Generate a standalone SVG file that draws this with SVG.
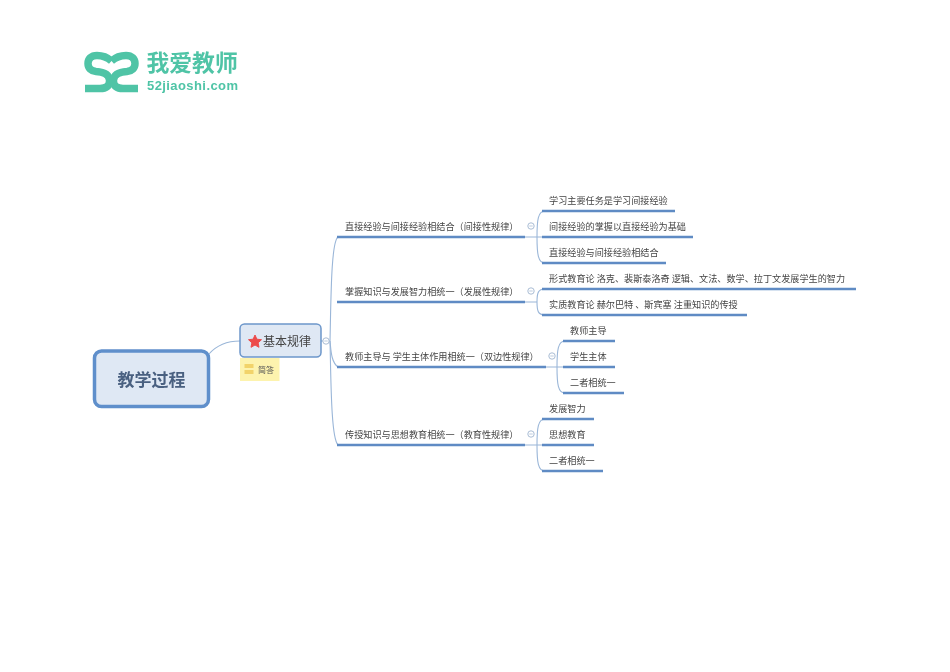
<svg xmlns="http://www.w3.org/2000/svg" width="950" height="672" viewBox="0 0 950 672">
<style>
text{font-family:"Noto Sans CJK SC","Liberation Sans",sans-serif}
.t{font-size:9.150px;fill:#444}
.thin{fill:none;stroke:#9ab6d8;stroke-width:1.100}
.u{fill:none;stroke:#5f8bc4;stroke-width:2.400}
.c{fill:#fff;stroke:#a9bcd4;stroke-width:1}
.logo{fill:none;stroke:#4fc4a6;stroke-width:7.500}
</style>
<defs>
<filter id="b" x="-5%" y="-5%" width="110%" height="110%"><feGaussianBlur stdDeviation="0.4"/></filter>
</defs>
<rect width="950" height="672" fill="#fff"/>
<g id="logo" filter="url(#b)">
<path class="logo" d="M111.500 61C107 57 102 55.500 97 55.500C91 55.500 88 59 88 63.500C88 68 91 71 96 71.500C103 72 109 74 109.500 80C110 86 106 88.500 100 88.500L85 88.500"/>
<path class="logo" d="M111.500 61C116 57 121 55.500 126 55.500C132 55.500 135 59 135 63.500C135 68 132 71 127 71.500C120 72 114 74 113.500 80C113 86 117 88.500 123 88.500L138 88.500"/>
<text x="146.500" y="71" font-size="22.800" font-weight="700" fill="#4fc4a6">我爱教师</text>
<text x="147" y="90" font-size="13" font-weight="700" fill="#4fc4a6" style="font-family:'Liberation Sans',sans-serif" textLength="91">52jiaoshi.com</text>
</g>
<g filter="url(#b)">
<g id="connectors">
<path class="thin" d="M209 354C216 346 226 341 240 341"/>
<path class="thin" d="M321 341H330"/>
<path class="thin" d="M330 341C331 300 331 242 338 237"/>
<path class="thin" d="M330 341C331 350 331 362 338 367"/>
<path class="thin" d="M330 341C331 380 331 438 338 445"/>
<path class="u" d="M337 237H525"/><path class="u" d="M337 302H525"/><path class="u" d="M337 367H546"/><path class="u" d="M337 445H525"/>
<path class="thin" d="M525 237H542M537 237C537 220 538 211 545 211M537 237C537 254 538 263 545 263"/>
<path class="thin" d="M525 302H537M537 302C537 293 538 289 545 289M537 302C537 311 538 315 545 315"/>
<path class="thin" d="M546 367H563M557 367C557 350 558 341 565 341M557 367C557 384 558 393 565 393"/>
<path class="thin" d="M525 445H542M537 445C537 428 538 419 545 419M537 445C537 462 538 471 545 471"/>
<path class="u" d="M542 211H675"/><path class="u" d="M542 237H693"/><path class="u" d="M542 263H666"/>
<path class="u" d="M542 289H856"/><path class="u" d="M542 315H747"/>
<path class="u" d="M563 341H615"/><path class="u" d="M563 367H615"/><path class="u" d="M563 393H624"/>
<path class="u" d="M542 419H594"/><path class="u" d="M542 445H594"/><path class="u" d="M542 471H603"/>
</g>
<g id="root">
<rect x="94.500" y="351" width="114" height="55.500" rx="7" fill="#dfe8f4" stroke="#5f8fcb" stroke-width="3.500"/>
<text x="151.500" y="385.500" font-size="17" font-weight="700" fill="#4a6080" text-anchor="middle">教学过程</text>
</g>
<g id="topic">
<rect x="240" y="324" width="81" height="33" rx="4.500" fill="#dfe8f4" stroke="#6c96ca" stroke-width="1.500"/>
<path d="M255 335L256.900 339.200L261.500 339.700L258.100 342.800L259 347.300L255 345L251 347.300L251.900 342.800L248.500 339.700L253.100 339.200Z" fill="#ec4c4c" stroke="#ec4c4c" stroke-width="1" stroke-linejoin="round"/>
<text x="263" y="345.500" font-size="12" fill="#444">基本规律</text>
<circle class="c" cx="326" cy="341" r="3.200"/><path d="M324.300 341H327.700" stroke="#a9bcd4" stroke-width=".8"/>
</g>
<g id="note">
<rect x="240" y="358" width="39.500" height="23" fill="#fdf3ae"/>
<rect x="244.500" y="364" width="9" height="4" fill="#f2d36b"/><rect x="244.500" y="370" width="9" height="4" fill="#f2d36b"/>
<text x="258" y="372.500" font-size="8" fill="#555">简答</text>
</g>
<g id="b1"><text class="t" x="345" y="230">直接经验与间接经验相结合（间接性规律）</text><circle class="c" cx="531" cy="226" r="3.200"/><path d="M529.300 226H532.700" stroke="#a9bcd4" stroke-width=".8"/></g>
<g id="b2"><text class="t" x="345" y="295">掌握知识与发展智力相统一（发展性规律）</text><circle class="c" cx="531" cy="291" r="3.200"/><path d="M529.300 291H532.700" stroke="#a9bcd4" stroke-width=".8"/></g>
<g id="b3"><text class="t" x="345" y="360">教师主导与 学生主体作用相统一（双边性规律）</text><circle class="c" cx="552" cy="356" r="3.200"/><path d="M550.300 356H553.700" stroke="#a9bcd4" stroke-width=".8"/></g>
<g id="b4"><text class="t" x="345" y="438">传授知识与思想教育相统一（教育性规律）</text><circle class="c" cx="531" cy="434" r="3.200"/><path d="M529.300 434H532.700" stroke="#a9bcd4" stroke-width=".8"/></g>
<g id="l1"><text class="t" x="549" y="204">学习主要任务是学习间接经验</text></g>
<g id="l2"><text class="t" x="549" y="230">间接经验的掌握以直接经验为基础</text></g>
<g id="l3"><text class="t" x="549" y="256">直接经验与间接经验相结合</text></g>
<g id="l4"><text class="t" x="549" y="282">形式教育论 洛克、裴斯泰洛奇 逻辑、文法、数学、拉丁文发展学生的智力</text></g>
<g id="l5"><text class="t" x="549" y="308">实质教育论 赫尔巴特 、斯宾塞 注重知识的传授</text></g>
<g id="l6"><text class="t" x="570" y="334">教师主导</text></g>
<g id="l7"><text class="t" x="570" y="360">学生主体</text></g>
<g id="l8"><text class="t" x="570" y="386">二者相统一</text></g>
<g id="l9"><text class="t" x="549" y="412">发展智力</text></g>
<g id="l10"><text class="t" x="549" y="438">思想教育</text></g>
<g id="l11"><text class="t" x="549" y="464">二者相统一</text></g>
</g>
</svg>
